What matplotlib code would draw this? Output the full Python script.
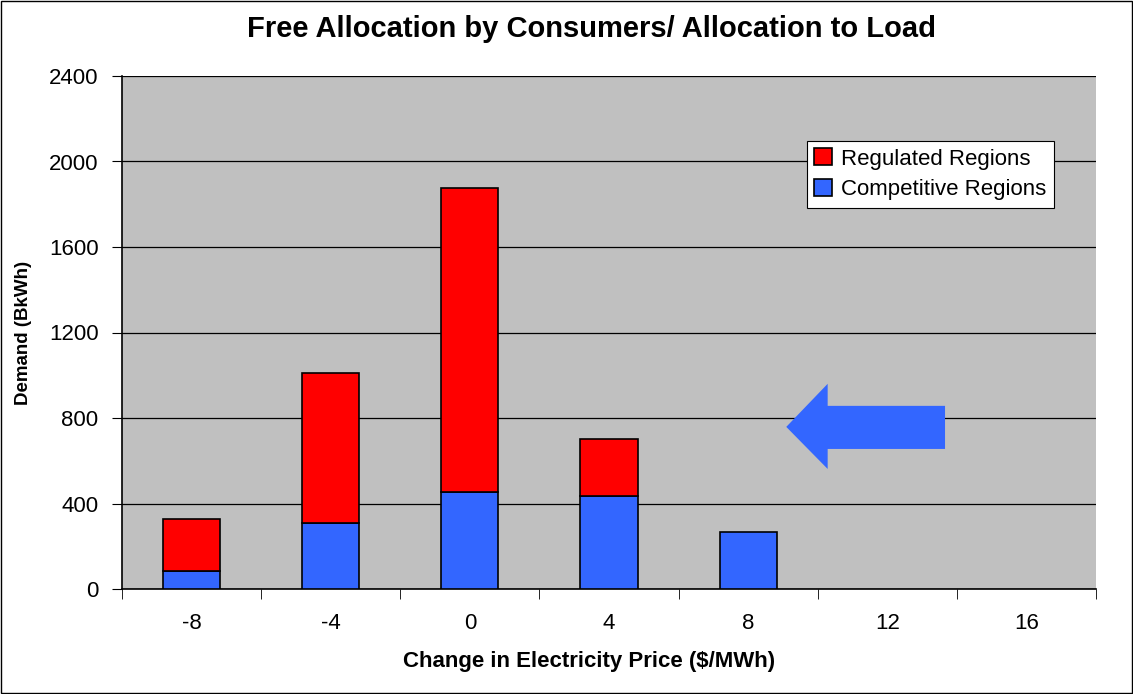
import numpy as np
import matplotlib.pyplot as plt
from matplotlib.patches import Polygon, Rectangle

plt.rcParams['font.family'] = ['Liberation Sans', 'DejaVu Sans']

price_change = ["-8", "-4", "0", "4", "8", "12", "16"]
competitive = [84, 307, 452, 435, 265, 0, 0]
regulated = [245, 703, 1424, 268, 0, 0, 0]

fig = plt.figure(figsize=(11.33, 6.94), dpi=100)
ax = fig.add_axes([122 / 1133, 1 - 589 / 694, 974 / 1133, 513 / 694])
ax.set_facecolor("#c0c0c0")

x = np.arange(len(price_change))
# no outline for empty bars
lw_comp = [1.2 if v > 0 else 0 for v in competitive]
lw_reg = [1.2 if v > 0 else 0 for v in regulated]
ax.bar(x, competitive, width=0.41, color="#3366ff", edgecolor="black",
       linewidth=lw_comp, label="Competitive Regions", zorder=3)
ax.bar(x, regulated, width=0.41, bottom=competitive, color="#ff0000",
       edgecolor="black", linewidth=lw_reg, label="Regulated Regions", zorder=3)

ax.set_xlim(-0.5, len(price_change) - 0.5)
ax.set_ylim(0, 2400)
ax.set_yticks(range(0, 2401, 400))
ax.tick_params(axis="y", labelsize=16, length=7, direction="out", pad=10)
ax.set_xticks(x)
ax.set_xticklabels(price_change, fontsize=16)
ax.tick_params(axis="x", length=0, pad=17)
ax.set_xticks(np.arange(-0.5, len(price_change)), minor=True)
ax.tick_params(axis="x", which="minor", length=7, direction="out")
ax.grid(axis="y", color="black", linewidth=0.9, zorder=1)
for side in ["top", "right"]:
    ax.spines[side].set_visible(False)
ax.spines["left"].set_linewidth(1.2)
ax.spines["bottom"].set_linewidth(1.2)

ax.set_xlabel("Change in Electricity Price ($/MWh)", fontsize=16,
              fontweight="bold")
ax.xaxis.set_label_coords(0.48, -(661 - 589) / 513)
ax.xaxis.label.set_va("center")
ax.set_ylabel("Demand (BkWh)", fontsize=13.5, fontweight="bold")
ax.yaxis.set_label_coords(-(122 - 24) / 974, 0.5)
ax.yaxis.label.set_va("center")
fig.text(0.5225, 1 - 29 / 694, "Free Allocation by Consumers/ Allocation to Load",
         fontsize=21, fontweight="bold", ha="center", va="center")

# big blue arrow pointing left
arrow = Polygon([(0.682, 0.316), (0.7245, 0.400), (0.7245, 0.357),
                 (0.845, 0.357), (0.845, 0.273), (0.7245, 0.273),
                 (0.7245, 0.234)],
                closed=True, transform=ax.transAxes, facecolor="#3366ff",
                edgecolor="none", zorder=4)
ax.add_patch(arrow)

handles, labels = ax.get_legend_handles_labels()
leg = ax.legend(handles[::-1], labels[::-1], loc="upper right",
                bbox_to_anchor=(0.957, 0.874), fontsize=16, frameon=True,
                fancybox=False, edgecolor="black", framealpha=1,
                handlelength=0.8, handleheight=0.8, handletextpad=0.4,
                borderpad=0.35, labelspacing=0.4, borderaxespad=0)
leg.get_frame().set_linewidth(0.8)

fig.patches.append(Rectangle((0.001, 0.001), 0.998, 0.998, transform=fig.transFigure,
                             fill=False, edgecolor="black", linewidth=1))

fig.savefig("out.png", dpi=100)
